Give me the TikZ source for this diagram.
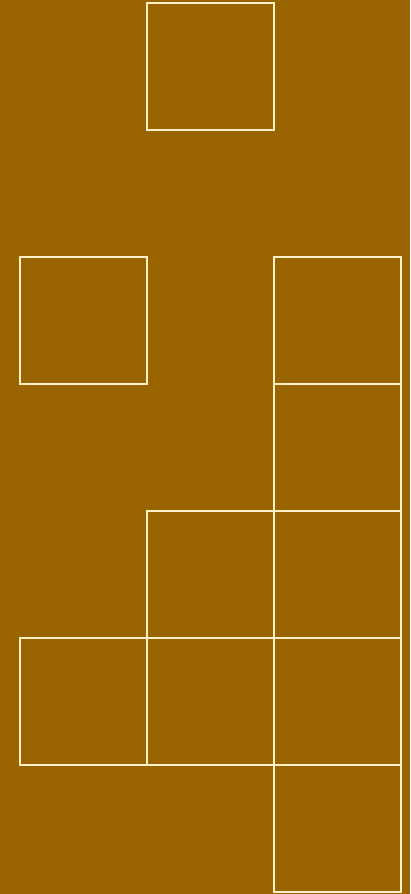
\documentclass[tikz,border=0pt]{standalone}
\usepackage{tikz}
\definecolor{brett}{HTML}{996300}
\definecolor{rahmen}{HTML}{FFF0C8}
\begin{document}
\begin{tikzpicture}[x=1pt,y=-1pt]
\def\a{127} % Kantenlaenge der Quadrate
\def\ox{19.5} % linker Rand
\def\oy{3} % oberer Rand

% =========================================================
% Hintergrund
% =========================================================
\fill[brett] (0,0) rectangle (410,894);

% =========================================================
% Quadrate (Spalte/Zeile)
% =========================================================
\foreach \c/\r in {1/0, 0/2, 2/2, 2/3, 1/4, 2/4, 0/5, 1/5, 2/5, 2/6}
    \draw[rahmen, line width=2pt] (\ox+\c*\a,\oy+\r*\a) rectangle ++(\a,\a);

\end{tikzpicture}
\end{document}
